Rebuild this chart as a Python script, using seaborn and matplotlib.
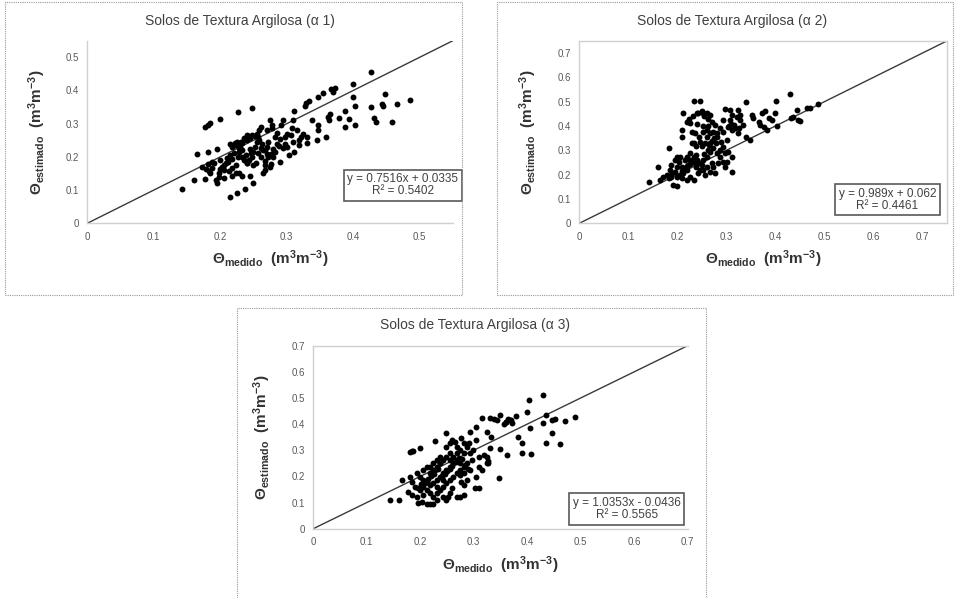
import numpy as np
import pandas as pd
import seaborn as sns
import matplotlib.pyplot as plt
from matplotlib.patches import Rectangle
from matplotlib.ticker import FuncFormatter

titles = ["Solos de Textura Argilosa (α 1)",
          "Solos de Textura Argilosa (α 2)",
          "Solos de Textura Argilosa (α 3)"]
equations = ["y = 0.7516x + 0.0335\nR² = 0.5402",
             "y = 0.989x + 0.062\nR² = 0.4461",
             "y = 1.0353x - 0.0436\nR² = 0.5565"]
axis_max = [0.55, 0.75, 0.70]
tick_max = [0.5, 0.7, 0.7]

a1_medido = [0.142, 0.160, 0.165, 0.177, 0.178, 0.181, 0.177, 0.181, 0.185, 0.199, 0.195, 0.226,
             0.247, 0.214, 0.225, 0.237, 0.244, 0.250, 0.426, 0.400, 0.399, 0.367, 0.355, 0.347,
             0.329, 0.328, 0.311, 0.448, 0.485, 0.466, 0.443, 0.445, 0.427, 0.403, 0.432, 0.434,
             0.459, 0.403, 0.387, 0.387, 0.393, 0.378, 0.364, 0.362, 0.365, 0.359, 0.347, 0.347,
             0.338, 0.346, 0.330, 0.330, 0.319, 0.319, 0.310, 0.308, 0.307, 0.311, 0.304, 0.297,
             0.297, 0.295, 0.295, 0.292, 0.290, 0.285, 0.278, 0.278, 0.275, 0.272, 0.270, 0.267,
             0.267, 0.275, 0.277, 0.265, 0.262, 0.258, 0.257, 0.255, 0.252, 0.250, 0.257, 0.262,
             0.247, 0.243, 0.240, 0.245, 0.240, 0.235, 0.233, 0.230, 0.228, 0.223, 0.218, 0.228,
             0.220, 0.233, 0.235, 0.224, 0.218, 0.213, 0.210, 0.208, 0.203, 0.205, 0.198, 0.193,
             0.195, 0.188, 0.183, 0.185, 0.173, 0.188, 0.190, 0.228, 0.233, 0.218, 0.223, 0.249,
             0.254, 0.240, 0.265, 0.270, 0.280, 0.285, 0.263, 0.255, 0.240, 0.232, 0.215, 0.200,
             0.212, 0.225, 0.215, 0.245, 0.300, 0.290, 0.310, 0.322, 0.280, 0.268, 0.198, 0.205,
             0.181, 0.333, 0.370, 0.372,
             0.222, 0.226, 0.231, 0.236, 0.241, 0.248, 0.252, 0.258, 0.262, 0.268, 0.272, 0.276,
             0.283, 0.288, 0.246, 0.238, 0.227, 0.218, 0.206, 0.200, 0.270, 0.282, 0.300, 0.315,
             0.325]
a1_estimado = [0.103, 0.131, 0.208, 0.134, 0.165, 0.215, 0.290, 0.296, 0.301, 0.313, 0.224, 0.335,
               0.346, 0.080, 0.092, 0.102, 0.141, 0.122, 0.457, 0.420, 0.379, 0.404, 0.392, 0.379,
               0.363, 0.353, 0.338, 0.389, 0.372, 0.358, 0.360, 0.353, 0.351, 0.353, 0.316, 0.306,
               0.305, 0.296, 0.289, 0.338, 0.313, 0.316, 0.310, 0.320, 0.330, 0.259, 0.296, 0.281,
               0.311, 0.251, 0.261, 0.241, 0.251, 0.236, 0.311, 0.286, 0.266, 0.216, 0.206, 0.260,
               0.240, 0.226, 0.311, 0.296, 0.186, 0.271, 0.286, 0.296, 0.311, 0.246, 0.231, 0.176,
               0.161, 0.171, 0.179, 0.151, 0.290, 0.280, 0.261, 0.246, 0.231, 0.216, 0.211, 0.201,
               0.201, 0.191, 0.181, 0.256, 0.251, 0.251, 0.241, 0.231, 0.226, 0.236, 0.231, 0.216,
               0.211, 0.201, 0.191, 0.176, 0.166, 0.156, 0.196, 0.181, 0.171, 0.161, 0.151, 0.131,
               0.122, 0.166, 0.156, 0.151, 0.171, 0.186, 0.181, 0.151, 0.141, 0.141, 0.151, 0.176,
               0.181, 0.181, 0.220, 0.210, 0.200, 0.240, 0.240, 0.270, 0.265, 0.222, 0.205, 0.190,
               0.185, 0.245, 0.240, 0.225, 0.230, 0.255, 0.245, 0.260, 0.225, 0.189, 0.140, 0.135,
               0.178, 0.368, 0.395, 0.406,
               0.243, 0.238, 0.246, 0.258, 0.262, 0.266, 0.262, 0.252, 0.228, 0.222, 0.200, 0.210,
               0.215, 0.232, 0.212, 0.205, 0.200, 0.195, 0.176, 0.165, 0.282, 0.260, 0.270, 0.280,
               0.270]

a2_medido = [0.171, 0.178, 0.182, 0.185, 0.188, 0.195, 0.199, 0.204, 0.209, 0.212, 0.219, 0.222,
             0.226, 0.233, 0.236, 0.239, 0.243, 0.246, 0.226, 0.233, 0.219, 0.209, 0.253, 0.260,
             0.267, 0.270, 0.260, 0.253, 0.239, 0.226, 0.219, 0.216, 0.205, 0.199, 0.195, 0.188,
             0.239, 0.246, 0.256, 0.260, 0.267, 0.273, 0.280, 0.287, 0.284, 0.273, 0.267, 0.256,
             0.250, 0.233, 0.236, 0.229, 0.253, 0.270, 0.277, 0.287, 0.294, 0.301, 0.290, 0.307,
             0.311, 0.321, 0.328, 0.335, 0.324, 0.341, 0.294, 0.304, 0.311,
             0.143, 0.161, 0.165, 0.183, 0.190, 0.192, 0.199, 0.209, 0.210, 0.212, 0.219, 0.224,
             0.229, 0.233, 0.246, 0.240, 0.243, 0.250, 0.253, 0.260, 0.267, 0.226, 0.240, 0.253,
             0.263, 0.244, 0.260, 0.267, 0.273, 0.280, 0.278, 0.287, 0.294, 0.297, 0.301, 0.297,
             0.312, 0.277, 0.297, 0.294, 0.307, 0.304, 0.311, 0.318, 0.324, 0.328, 0.326, 0.340,
             0.348, 0.352, 0.355, 0.367, 0.373, 0.379, 0.369, 0.377, 0.382, 0.388, 0.393, 0.401,
             0.399, 0.404, 0.429, 0.433, 0.437, 0.444, 0.447, 0.450, 0.464, 0.471, 0.488,
             0.200, 0.205, 0.210, 0.215, 0.220, 0.225, 0.230, 0.235, 0.240, 0.245, 0.250, 0.255,
             0.262, 0.265, 0.270, 0.275, 0.280, 0.255, 0.262, 0.232, 0.310, 0.315, 0.305]
a2_estimado = [0.192, 0.199, 0.185, 0.219, 0.240, 0.261, 0.274, 0.254, 0.233, 0.206, 0.219, 0.240,
               0.261, 0.274, 0.247, 0.233, 0.206, 0.219, 0.192, 0.178, 0.178, 0.185, 0.261, 0.274,
               0.295, 0.247, 0.233, 0.219, 0.281, 0.288, 0.274, 0.261, 0.274, 0.233, 0.213, 0.192,
               0.316, 0.336, 0.329, 0.357, 0.329, 0.309, 0.288, 0.302, 0.247, 0.233, 0.213, 0.199,
               0.316, 0.329, 0.370, 0.377, 0.377, 0.418, 0.405, 0.391, 0.377, 0.343, 0.336, 0.466,
               0.446, 0.439, 0.425, 0.405, 0.370, 0.357, 0.254, 0.295, 0.274,
               0.170, 0.230, 0.178, 0.309, 0.206, 0.158, 0.154, 0.357, 0.384, 0.453, 0.418, 0.428,
               0.329, 0.501, 0.501, 0.453, 0.453, 0.460, 0.453, 0.453, 0.446, 0.412, 0.407, 0.400,
               0.402, 0.357, 0.384, 0.370, 0.377, 0.357, 0.329, 0.274, 0.315, 0.288, 0.251, 0.233,
               0.209, 0.206, 0.472, 0.425, 0.425, 0.398, 0.384, 0.391, 0.466, 0.446, 0.391, 0.498,
               0.343, 0.446, 0.432, 0.418, 0.453, 0.460, 0.405, 0.398, 0.384, 0.432, 0.423, 0.501,
               0.453, 0.401, 0.532, 0.432, 0.439, 0.466, 0.425, 0.421, 0.473, 0.473, 0.490,
               0.190, 0.200, 0.215, 0.225, 0.235, 0.245, 0.255, 0.265, 0.260, 0.250, 0.240, 0.285,
               0.300, 0.320, 0.340, 0.350, 0.370, 0.440, 0.430, 0.440, 0.410, 0.405, 0.400]

a3_medido = [0.143, 0.161, 0.165, 0.181, 0.184, 0.187, 0.200, 0.228, 0.248, 0.277, 0.293, 0.305,
             0.315, 0.330, 0.337, 0.343, 0.350, 0.357, 0.361, 0.365, 0.368, 0.371, 0.382, 0.391,
             0.391, 0.379, 0.399, 0.404, 0.405, 0.407, 0.429, 0.430, 0.436, 0.435, 0.446, 0.452,
             0.447, 0.461, 0.471, 0.489, 0.348, 0.363, 0.349, 0.332, 0.324, 0.330, 0.327, 0.327,
             0.324, 0.315, 0.309, 0.305, 0.309, 0.302, 0.281, 0.287, 0.292, 0.274, 0.277, 0.281,
             0.274, 0.281, 0.268, 0.259, 0.256, 0.249, 0.252, 0.218, 0.224, 0.212, 0.196, 0.203,
             0.178, 0.184,
             0.193, 0.200, 0.206, 0.212, 0.218, 0.224, 0.231, 0.206, 0.200, 0.190, 0.184, 0.181,
             0.218, 0.224, 0.231, 0.237, 0.243, 0.249, 0.256, 0.262, 0.268, 0.268, 0.262, 0.256,
             0.249, 0.243, 0.237, 0.231, 0.243, 0.249, 0.256, 0.262, 0.268, 0.274, 0.281, 0.287,
             0.218, 0.224, 0.231, 0.237, 0.212, 0.206, 0.218, 0.224, 0.231, 0.237, 0.243, 0.212,
             0.206, 0.193, 0.243, 0.231, 0.281, 0.287, 0.293, 0.296, 0.274, 0.256, 0.237, 0.224,
             0.249, 0.256, 0.259, 0.265, 0.274, 0.281, 0.293, 0.299, 0.305, 0.309, 0.268,
             0.220, 0.225, 0.228, 0.234, 0.240, 0.246, 0.250, 0.255, 0.260, 0.266, 0.272, 0.278,
             0.284, 0.290, 0.214, 0.208, 0.202, 0.196, 0.320, 0.325, 0.360, 0.370]
a3_estimado = [0.110, 0.110, 0.186, 0.295, 0.297, 0.298, 0.307, 0.337, 0.367, 0.348, 0.371, 0.390,
               0.425, 0.425, 0.418, 0.416, 0.435, 0.400, 0.410, 0.420, 0.415, 0.405, 0.352, 0.327,
               0.288, 0.431, 0.448, 0.492, 0.384, 0.284, 0.511, 0.406, 0.435, 0.327, 0.416, 0.418,
               0.365, 0.324, 0.412, 0.429, 0.195, 0.282, 0.305, 0.352, 0.371, 0.310, 0.260, 0.250,
               0.276, 0.224, 0.237, 0.199, 0.154, 0.154, 0.288, 0.314, 0.327, 0.205, 0.180, 0.167,
               0.122, 0.129, 0.122, 0.154, 0.135, 0.110, 0.122, 0.094, 0.094, 0.094, 0.097, 0.103,
               0.142, 0.129,
               0.212, 0.199, 0.186, 0.180, 0.167, 0.173, 0.161, 0.161, 0.148, 0.161, 0.180, 0.199,
               0.212, 0.224, 0.237, 0.250, 0.263, 0.276, 0.288, 0.276, 0.288, 0.263, 0.250, 0.237,
               0.224, 0.212, 0.199, 0.186, 0.186, 0.173, 0.186, 0.199, 0.212, 0.224, 0.237, 0.250,
               0.237, 0.250, 0.263, 0.276, 0.237, 0.224, 0.135, 0.122, 0.135, 0.148, 0.161, 0.148,
               0.129, 0.122, 0.122, 0.110, 0.212, 0.186, 0.224, 0.263, 0.250, 0.263, 0.250, 0.212,
               0.314, 0.327, 0.339, 0.333, 0.301, 0.327, 0.288, 0.301, 0.339, 0.276, 0.314,
               0.200, 0.210, 0.225, 0.230, 0.200, 0.210, 0.220, 0.230, 0.240, 0.255, 0.270, 0.265,
               0.245, 0.230, 0.190, 0.175, 0.170, 0.155, 0.280, 0.250, 0.410, 0.415]

medido = [a1_medido, a2_medido, a3_medido]
estimado = [a1_estimado, a2_estimado, a3_estimado]

# ---- layout (figure fractions) ----
axes_pos = [[0.0913, 0.6266, 0.3825, 0.3054],
            [0.6060, 0.6266, 0.3844, 0.3049],
            [0.3277, 0.1159, 0.3916, 0.3060]]
frames = [[0.005, 0.507, 0.478, 0.489],
          [0.520, 0.507, 0.477, 0.489],
          [0.248, -0.02, 0.491, 0.505]]
title_xy = [(0.251, 0.965), (0.766, 0.965), (0.497, 0.456)]
box_xy = [(1.015, 0.273), (0.971, 0.196), (0.982, 0.173)]
spines_on = [["left", "bottom"],
             ["left", "bottom", "top", "right"],
             ["left", "bottom", "top"]]

sns.set_theme(style="white")
plt.rcParams["font.family"] = ["Liberation Sans", "DejaVu Sans"]
plt.rcParams["mathtext.fontset"] = "custom"
plt.rcParams["mathtext.rm"] = "Liberation Sans"
plt.rcParams["mathtext.it"] = "Liberation Sans:italic"
plt.rcParams["mathtext.bf"] = "Liberation Sans:bold"

fig = plt.figure(figsize=(9.56, 5.98), dpi=100)
fmt = FuncFormatter(lambda v, p: "0" if abs(v) < 1e-9 else f"{v:g}")

for i in range(3):
    # dotted panel frame
    fig.patches.append(Rectangle(frames[i][:2], frames[i][2], frames[i][3],
                                 transform=fig.transFigure, fill=False,
                                 edgecolor="#9a9a9a", linestyle=(0, (1, 1)), linewidth=0.8))
    ax = fig.add_axes(axes_pos[i])
    df = pd.DataFrame({"medido": medido[i], "estimado": estimado[i]})
    sns.scatterplot(data=df, x="medido", y="estimado", ax=ax, color="black",
                    s=18, linewidth=0, zorder=3)
    ax.axline((0, 0), slope=1, color="#3a3a3a", linewidth=1.0, zorder=2)
    ax.set_xlim(0, axis_max[i])
    ax.set_ylim(0, axis_max[i])
    ticks = np.arange(0, tick_max[i] + 0.001, 0.1)
    ax.set_xticks(ticks)
    ax.set_yticks(ticks)
    ax.xaxis.set_major_formatter(fmt)
    ax.yaxis.set_major_formatter(fmt)
    ax.tick_params(length=0, labelsize=7, labelcolor="#595959", pad=6)
    for side, sp in ax.spines.items():
        sp.set_visible(side in spines_on[i])
        sp.set_color("#d0d0d0")
        sp.set_linewidth(1.0)
    ax.set_xlabel(r"$\mathbf{\Theta_{medido}\ \ (m^{3}m^{-3})}$", fontsize=11,
                  color="#333333", labelpad=5)
    ax.set_ylabel(r"$\mathbf{\Theta_{estimado}\ \ (m^{3}m^{-3})}$", fontsize=11,
                  color="#333333", labelpad=13)
    fig.text(title_xy[i][0], title_xy[i][1], titles[i], ha="center", va="center",
             fontsize=10, color="#404040")
    ax.text(box_xy[i][0], box_xy[i][1], equations[i], transform=ax.transAxes,
            ha="right", va="top", fontsize=8.5, color="#404040", multialignment="center",
            linespacing=1.0, zorder=5,
            bbox=dict(boxstyle="square,pad=0.3", facecolor="white",
                      edgecolor="#595959", linewidth=1.2))

fig.savefig("out.png", dpi=100)
